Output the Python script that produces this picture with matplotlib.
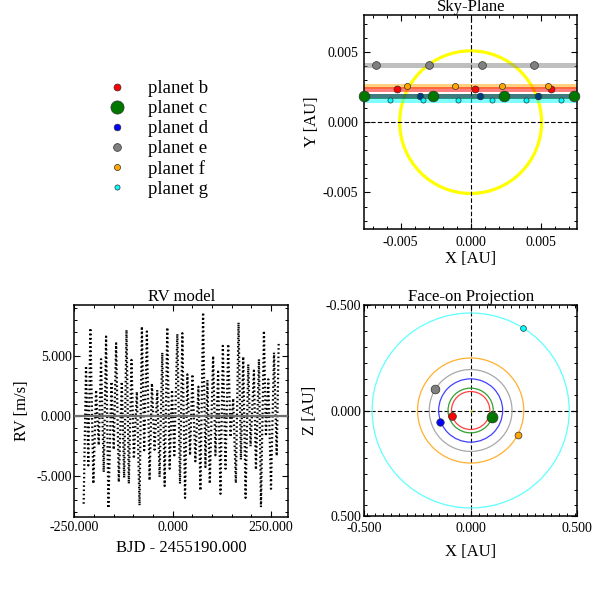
import matplotlib
matplotlib.use('Agg')
import matplotlib.pyplot as plt
from matplotlib.lines import Line2D
from matplotlib.patches import Circle
from matplotlib.ticker import MultipleLocator, FormatStrFormatter

# ---------------- data ----------------
planet_names = ['planet b', 'planet c', 'planet d', 'planet e', 'planet f', 'planet g']

# Sky-plane (AU)
star_radius = 0.00507
sky_y = [0.00237, 0.00183, 0.00187, 0.00405, 0.00259, 0.00160]
sky_x_b = [-0.00526, 0.00034, 0.00576]
sky_x_c = [-0.00764, -0.00271, 0.00239, 0.00739]
sky_x_d = [-0.00364, 0.00064, 0.00481]
sky_x_e = [-0.00676, -0.00295, 0.00081, 0.00455]
sky_x_f = [-0.00452, -0.00114, 0.00221, 0.00553]
sky_x_g = [-0.00579, -0.00338, -0.00090, 0.00150, 0.00393, 0.00643]
sky_x = [sky_x_b, sky_x_c, sky_x_d, sky_x_e, sky_x_f, sky_x_g]

# Face-on projection (AU)
orbit_radius = [0.090, 0.106, 0.150, 0.194, 0.249, 0.462]
face_x = [-0.086, 0.102, -0.143, -0.165, 0.221, 0.245]
face_z = [0.027, 0.033, 0.056, -0.103, 0.118, -0.390]

# RV model (extrema)
rv_t = [-226.2, -220.2, -214.3, -209.2, -201.5, -194.7, -187.9, -182.0, -175.2, -169.2,
        -163.3, -155.6, -149.7, -143.7, -136.9, -129.3, -123.3, -117.3, -111.4, -104.6,
        -98.6, -91.0, -84.2, -78.2, -72.3, -65.5, -58.7, -52.7, -45.9, -39.1,
        -33.2, -26.4, -20.4, -13.6, -7.7, -1.7, 4.3, 11.9, 18.7, 24.7,
        31.5, 37.4, 44.2, 50.2, 57.8, 65.5, 70.6, 77.4, 83.3, 88.4,
        94.4, 102.9, 108.8, 115.6, 121.6, 127.6, 134.4, 141.2, 147.1, 153.9,
        160.7, 167.5, 173.5, 179.4, 185.4, 192.2, 198.1, 206.6, 211.7, 219.4,
        224.5, 232.1, 237.2, 243.2, 250.0, 257.7, 264.5, 269.6]
rv_v = [-7.32, 4.17, -4.12, 7.32, -5.65, 2.16, -2.44, 4.73, -4.68, 6.62,
        -7.69, 2.86, -2.81, 6.06, -5.51, 2.86, -5.15, 7.18, -5.65, 4.67,
        -3.56, 2.02, -7.46, 7.46, -2.86, 7.04, -5.37, 2.72, -2.81, 2.16,
        -5.09, 5.28, -5.84, 7.38, -4.40, 2.16, -3.28, 6.84, -5.65, 6.90,
        -6.83, 3.47, -3.28, 3.47, -3.78, 2.44, -6.21, 8.63, -4.26, 3.00,
        -5.65, 5.00, -3.28, 3.69, -6.49, 5.84, -4.40, 5.98, -1.75, 1.46,
        -5.60, 7.79, -3.64, 4.95, -6.83, 4.31, -2.53, 3.78, -4.48, 4.73,
        -7.60, 7.10, -1.69, 3.05, -6.07, 5.28, -3.33, 6.19]

# ---------------- style ----------------
colors = ['#ff0000', '#007800', '#0000ff', '#808080', '#ffa500', '#00ffff']
orbit_colors = ['#ff4040', '#30a030', '#4040ff', '#a8a8a8', '#ffb030', '#60ffff']
marker_pt = [5.0, 7.0, 4.8, 5.6, 4.4, 3.7]

plt.rcParams['font.family'] = ['Liberation Serif', 'DejaVu Serif']
plt.rcParams['axes.unicode_minus'] = False
plt.rcParams['xtick.direction'] = 'in'
plt.rcParams['ytick.direction'] = 'in'
plt.rcParams['xtick.top'] = True
plt.rcParams['ytick.right'] = True

W, H = 592, 593
fig = plt.figure(figsize=(W / 100, H / 100), dpi=100)


def box(l, t, r, b):
    return [l / W, 1 - b / H, (r - l) / W, (b - t) / H]


def style(ax, xmaj, xmin, ymaj, ymin, xpad, ypad):
    ax.xaxis.set_major_locator(MultipleLocator(xmaj))
    ax.xaxis.set_minor_locator(MultipleLocator(xmin))
    ax.yaxis.set_major_locator(MultipleLocator(ymaj))
    ax.yaxis.set_minor_locator(MultipleLocator(ymin))
    ax.xaxis.set_major_formatter(FormatStrFormatter('%.3f'))
    ax.yaxis.set_major_formatter(FormatStrFormatter('%.3f'))
    ax.tick_params(which='major', length=4.5, width=0.8, labelsize=10)
    ax.tick_params(which='minor', length=2.5, width=0.7)
    ax.tick_params(axis='x', which='major', pad=xpad)
    ax.tick_params(axis='y', which='major', pad=ypad)
    for s in ax.spines.values():
        s.set_linewidth(1.1)


# ---------------- Sky-Plane ----------------
ax = fig.add_axes(box(364, 15, 577.3, 229.3))
lim = 0.00762
ax.set_xlim(-lim, lim)
ax.set_ylim(-lim, lim)
ax.add_patch(Circle((0, 0), star_radius, fill=False, ec='#ffff00', lw=2.3, zorder=1))
ax.axhline(0, color='k', lw=0.8, ls=(0, (4, 2)), zorder=1.5)
ax.axvline(0, color='k', lw=0.8, ls=(0, (4, 2)), zorder=1.5)
band_z = [2.5, 3.5, 2, 2, 2, 2]
dot_z = [4, 4, 3, 4, 4, 4]
for i in range(6):
    ax.axhline(sky_y[i], color=colors[i], lw=3.6, alpha=0.5, zorder=band_z[i])
    ax.plot(sky_x[i], [sky_y[i]] * len(sky_x[i]), 'o', ms=marker_pt[i] * (1.1 if i == 1 else 1.0),
            mfc=colors[i], mec='#303030', mew=0.5, zorder=dot_z[i], clip_on=False)
style(ax, 0.005, 0.001, 0.005, 0.001, 5, 4)
ax.set_title('Sky-Plane', fontsize=12, pad=2)
ax.set_xlabel('X [AU]', fontsize=12)
ax.set_ylabel('Y [AU]', fontsize=12)
ax.xaxis.set_label_coords(0.5, -0.102)
ax.yaxis.set_label_coords(-0.207, 0.5)

# ---------------- RV model ----------------
ax = fig.add_axes(box(74.3, 305, 288.3, 516.7))
ax.plot(rv_t, rv_v, color='k', lw=1.6, ls=(0, (0.7, 1.2)), zorder=2)
ax.axhline(0, color='#707070', lw=1.6, zorder=3)
ax.set_xlim(-250, 294)
ax.set_ylim(-8.4, 9.25)
style(ax, 250, 50, 5, 1, 3, 2)
ax.set_title('RV model', fontsize=12, pad=1.5)
ax.set_xlabel('BJD - 2455190.000', fontsize=12)
ax.set_ylabel('RV [m/s]', fontsize=12)
ax.xaxis.set_label_coords(0.5, -0.112)
ax.yaxis.set_label_coords(-0.205, 0.5)

# ---------------- Face-on Projection ----------------
ax = fig.add_axes(box(364, 305, 577.3, 516))
ax.set_xlim(-0.5, 0.5)
ax.set_ylim(0.5, -0.5)
ax.axhline(0, color='k', lw=0.8, ls=(0, (4, 2)), zorder=1.5)
ax.axvline(0, color='k', lw=0.8, ls=(0, (4, 2)), zorder=1.5)
for i in range(6):
    ax.add_patch(Circle((0, 0), orbit_radius[i], fill=False, ec=orbit_colors[i], lw=0.9, zorder=2))
    ax.plot([face_x[i]], [face_z[i]], 'o', ms=marker_pt[i] * 1.12, mfc=colors[i], mec='#303030',
            mew=0.5, zorder=4)
ax.plot([0], [0], 'o', ms=1.6, color='#b0b000', mew=0, zorder=3)
style(ax, 0.5, 0.0375, 0.5, 0.075, 4, 2)
ax.set_title('Face-on Projection', fontsize=12, pad=2)
ax.set_xlabel('X [AU]', fontsize=12)
ax.set_ylabel('Z [AU]', fontsize=12)
ax.xaxis.set_label_coords(0.5, -0.133)
ax.yaxis.set_label_coords(-0.216, 0.5)

# ---------------- Legend ----------------
handles = [Line2D([], [], ls='none', marker='o', ms=marker_pt[i] * (1.35 if i == 1 else 1.0),
                  mfc=colors[i], mec='#303030', mew=0.5) for i in range(6)]
fig.legend(handles, planet_names, loc='upper left', bbox_to_anchor=(107.6 / W, 1 - 80 / H),
           frameon=False, fontsize=13.5, handlelength=1.0, handletextpad=1.15,
           labelspacing=0.155, borderpad=0, borderaxespad=0)

fig.savefig('out.png', dpi=100)
